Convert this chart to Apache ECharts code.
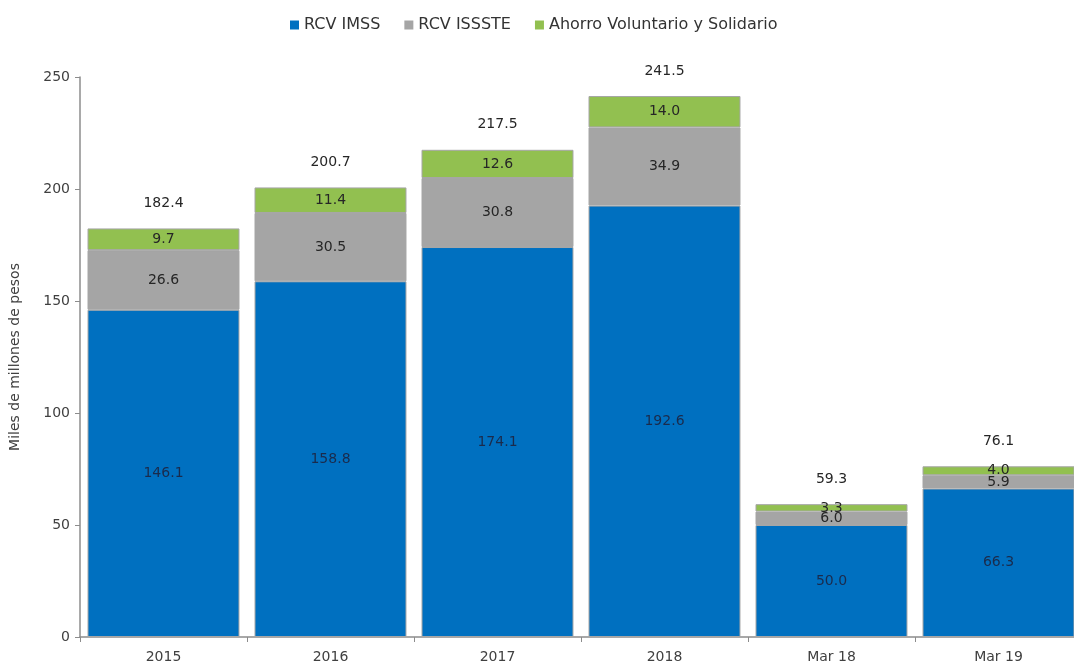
<!DOCTYPE html>
<html>
<head>
<meta charset="utf-8">
<script src="https://cdn.jsdelivr.net/npm/echarts@6/dist/echarts.min.js"></script>
<style>
  html, body { margin: 0; padding: 0; background: #fff; overflow: hidden; }
  #chart { width: 1082px; height: 667px; }
</style>
</head>
<body>
<div id="chart"></div>
<script>
// datos del grafico
var categorias = ['2015', '2016', '2017', '2018', 'Mar 18', 'Mar 19'];
var rcvImss = [146.1, 158.8, 174.1, 192.6, 50.0, 66.3];
var rcvIssste = [26.6, 30.5, 30.8, 34.9, 6.0, 5.9];
var ahorro = [9.7, 11.4, 12.6, 14.0, 3.3, 4.0];
var totales = [182.4, 200.7, 217.5, 241.5, 59.3, 76.1];
var ticksY = [0, 50, 100, 150, 200, 250];

var fuente = 'DejaVu Sans';

// el div es mas ancho que la ventana: la ultima barra queda cortada como en el original
var myChart = echarts.init(document.getElementById('chart'));

function etiqueta(color) {
    return {
        show: true,
        position: 'inside',
        color: color,
        fontSize: 14,
        fontFamily: fuente,
        formatter: function (p) { return p.value.toFixed(1); }
    };
}

var option = {
    animation: false,
    textStyle: { fontFamily: fuente },
    legend: {
        top: 12,
        left: 285,
        itemWidth: 9,
        itemHeight: 9,
        itemGap: 24,
        icon: 'rect',
        itemStyle: { borderWidth: 0 },
        data: ['RCV IMSS', 'RCV ISSSTE', 'Ahorro Voluntario y Solidario'],
        textStyle: { fontSize: 16, color: '#333', fontFamily: fuente }
    },
    grid: { left: 80, right: 0, top: 77, bottom: 30 },
    xAxis: {
        type: 'category',
        data: categorias,
        axisLine: { lineStyle: { color: '#8c8c8c', width: 1.5 } },
        axisTick: { show: true, length: 5, lineStyle: { color: '#8c8c8c' } },
        axisLabel: { fontSize: 14, color: '#404040', margin: 13, fontFamily: fuente }
    },
    yAxis: {
        type: 'value',
        min: ticksY[0],
        max: ticksY[ticksY.length - 1],
        interval: 50,
        name: 'Miles de millones de pesos',
        nameLocation: 'middle',
        nameGap: 58,
        nameTextStyle: { fontSize: 14, color: '#404040', fontFamily: fuente },
        splitLine: { show: false },
        axisLine: { show: true, lineStyle: { color: '#8c8c8c', width: 1.5 } },
        axisTick: { show: true, length: 5, lineStyle: { color: '#8c8c8c' } },
        axisLabel: { fontSize: 14, color: '#404040', margin: 10, fontFamily: fuente }
    },
    series: [
        {
            name: 'RCV IMSS',
            type: 'bar',
            stack: 'total',
            barCategoryGap: '9%',
            data: rcvImss,
            itemStyle: { color: '#0070c0', borderColor: '#a6a6a6', borderWidth: 1 },
            label: etiqueta('#1a2b4c')
        },
        {
            name: 'RCV ISSSTE',
            type: 'bar',
            stack: 'total',
            data: rcvIssste,
            itemStyle: { color: '#a5a5a5', borderColor: '#a6a6a6', borderWidth: 1 },
            label: etiqueta('#262626')
        },
        {
            name: 'Ahorro Voluntario y Solidario',
            type: 'bar',
            stack: 'total',
            data: ahorro,
            itemStyle: { color: '#92c050', borderColor: '#a6a6a6', borderWidth: 1 },
            label: etiqueta('#262626')
        },
        {
            // serie auxiliar para los totales arriba de cada barra
            name: 'Total',
            type: 'bar',
            stack: 'total',
            data: totales.map(function () { return 0; }),
            itemStyle: { color: 'transparent' },
            label: {
                show: true,
                position: 'top',
                distance: 18,
                fontSize: 14,
                color: '#262626',
                fontFamily: fuente,
                formatter: function (p) { return totales[p.dataIndex].toFixed(1); }
            }
        }
    ]
};

myChart.setOption(option);
window.addEventListener('resize', function () {
    myChart.resize();
});
</script>
</body>
</html>
